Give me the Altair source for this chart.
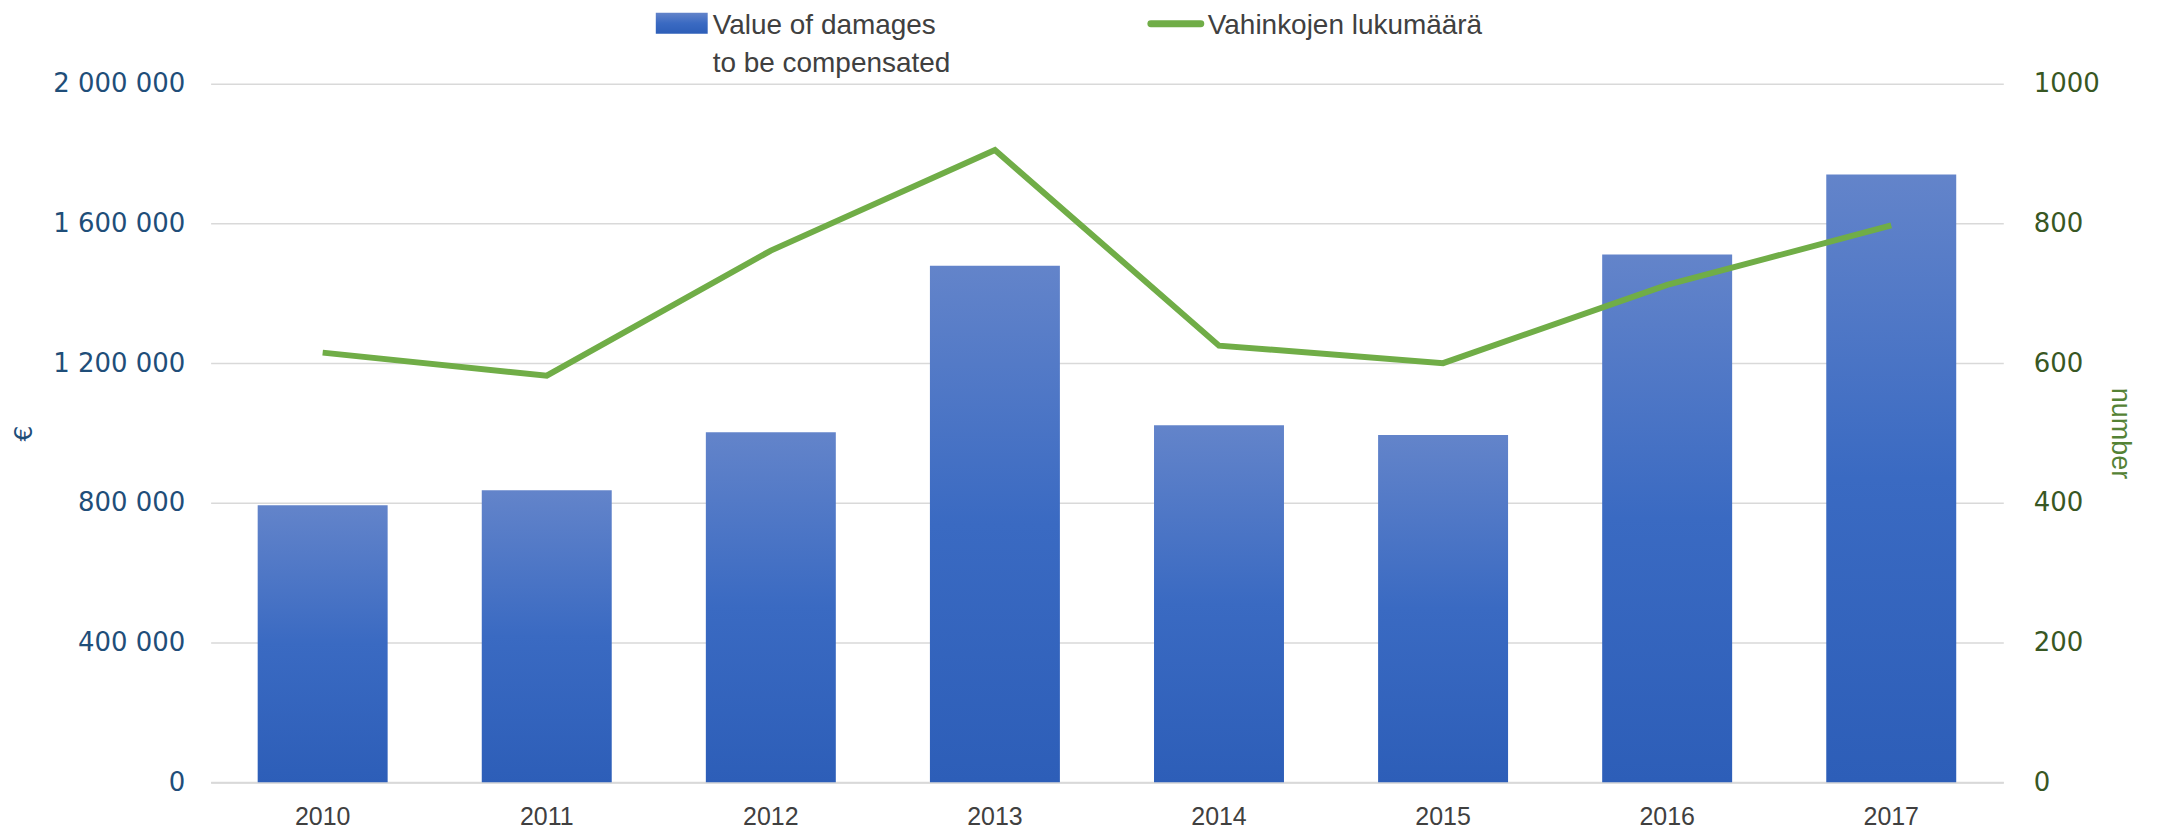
import altair as alt
import pandas as pd

years = ["2010", "2011", "2012", "2013", "2014", "2015", "2016", "2017"]
damages_eur = [793000, 836000, 1002000, 1479000, 1022000, 994000, 1511000, 1740000]
damage_count = [615, 582, 761, 905, 625, 600, 712, 797]

df = pd.DataFrame({"year": years, "value": damages_eur, "count": damage_count})

W, H = 1796, 700
NARROW = "Liberation Sans Narrow, Liberation Sans"
WIDE = "DejaVu Sans"
BLUE_TXT = "#1F4E79"
GREEN_TXT = "#385723"
GREEN = "#70AD47"

bar_grad = alt.Gradient(
    gradient="linear", x1=0, y1=0, x2=0, y2=1,
    stops=[alt.GradientStop(color="#6384CA", offset=0),
           alt.GradientStop(color="#3A6AC2", offset=0.5),
           alt.GradientStop(color="#2D5EB8", offset=1)],
)

x_enc = alt.X("year:O", scale=alt.Scale(paddingInner=0.42, paddingOuter=0.21),
              axis=alt.Axis(title=None, labelAngle=0, labelFont=NARROW, labelFontSize=25,
                            labelColor="#404040", labelPadding=22, ticks=False,
                            domainColor="#D9D9D9", domainWidth=2))

bars = alt.Chart(df).mark_bar(fill=bar_grad).encode(
    x=x_enc,
    y=alt.Y("value:Q", scale=alt.Scale(domain=[0, 2000000], nice=False),
            axis=alt.Axis(title="€", values=[0, 400000, 800000, 1200000, 1600000, 2000000],
                          labelExpr="replace(format(datum.value, ',d'), /,/g, ' ')",
                          labelFont=WIDE, labelFontSize=26, labelColor=BLUE_TXT,
                          labelPadding=26, ticks=False, domain=False,
                          grid=True, gridColor="#D9D9D9", gridWidth=1.5,
                          titleFont=WIDE, titleFontSize=25, titleColor=BLUE_TXT,
                          titleFontWeight="normal", titlePadding=16)),
)

line = alt.Chart(df).mark_line(color=GREEN, strokeWidth=6).encode(
    x=alt.X("year:O"),
    y=alt.Y("count:Q", scale=alt.Scale(domain=[0, 1000], nice=False),
            axis=alt.Axis(orient="right", title="number", values=[0, 200, 400, 600, 800, 1000],
                          format="d",
                          labelFont=WIDE, labelFontSize=26, labelColor=GREEN_TXT,
                          labelPadding=30, ticks=False, domain=False, grid=False,
                          titleFont=NARROW, titleFontSize=27, titleColor="#548235",
                          titleFontWeight="normal", titlePadding=6)),
)

one = alt.Data(values=[{"k": 1}])

leg_rect = alt.Chart(one).mark_rect(fill=bar_grad).encode(
    x=alt.value(446), x2=alt.value(498), y=alt.value(-71), y2=alt.value(-50))
leg_text1 = alt.Chart(one).mark_text(
    align="left", baseline="alphabetic", font=NARROW, fontSize=28, color="#404040",
    lineHeight=38).encode(
    x=alt.value(503), y=alt.value(-50),
    text=alt.value(["Value of damages", "to be compensated"]))
leg_line = alt.Chart(one).mark_rule(color=GREEN, strokeWidth=7, strokeCap="round").encode(
    x=alt.value(942), x2=alt.value(992), y=alt.value(-60))
leg_text2 = alt.Chart(one).mark_text(
    align="left", baseline="alphabetic", font=NARROW, fontSize=28, color="#404040").encode(
    x=alt.value(999), y=alt.value(-50), text=alt.value("Vahinkojen lukumäärä"))

chart = alt.layer(bars, line, leg_rect, leg_text1, leg_line, leg_text2).resolve_scale(
    y="independent"
).properties(
    width=W, height=H,
    autosize=alt.AutoSizeParams(type="none"),
    padding={"left": 203, "top": 75, "right": 154, "bottom": 56},
).configure_view(stroke=None)

chart.save("out.html", embed_options={"renderer": "svg", "actions": False})
